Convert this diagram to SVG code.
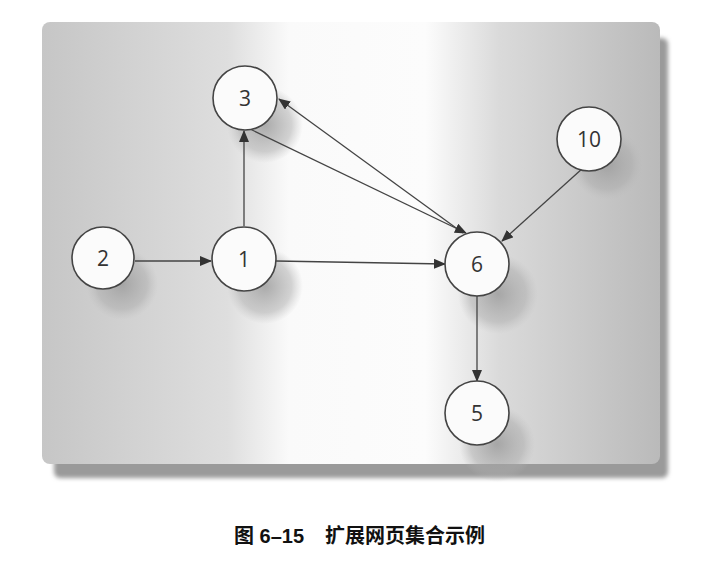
<svg xmlns="http://www.w3.org/2000/svg" width="716" height="566" viewBox="0 0 716 566">
<defs>
<linearGradient id="bg" x1="0" y1="0" x2="1" y2="0">
<stop offset="0" stop-color="#c6c6c6"/>
<stop offset="0.3" stop-color="#dedede"/>
<stop offset="0.4" stop-color="#fafafa"/>
<stop offset="0.62" stop-color="#fcfcfc"/>
<stop offset="0.74" stop-color="#dadada"/>
<stop offset="1" stop-color="#bababa"/>
</linearGradient>
<radialGradient id="sh">
<stop offset="0" stop-color="#999" stop-opacity="0.8"/>
<stop offset="0.7" stop-color="#aaa" stop-opacity="0.5"/>
<stop offset="1" stop-color="#bbb" stop-opacity="0"/>
</radialGradient>
<filter id="blur"><feGaussianBlur stdDeviation="2"/></filter>
<marker id="arr" markerWidth="12" markerHeight="10" refX="11" refY="5" orient="auto" markerUnits="userSpaceOnUse">
<path d="M0,0 L12,5 L0,10 Z" fill="#333"/>
</marker>
<style>
.node circle{fill:#fbfbfb;stroke:#444;stroke-width:1.6}
.node text{font-family:"Open Sans","DejaVu Sans",sans-serif;font-size:21px;fill:#333;text-anchor:middle;dominant-baseline:central}
.shadow{fill:url(#sh)}
#edges line{stroke:#444;stroke-width:1.3;marker-end:url(#arr)}
.cap{font-family:"Liberation Sans","Noto Sans CJK SC",sans-serif;font-size:20px;font-weight:bold;fill:#111}
</style>
</defs>
<rect width="716" height="566" fill="#fff"/>
<g id="panel">
<rect x="54" y="38" width="614" height="440" rx="6" fill="#9a9a9a" filter="url(#blur)"/>
<rect x="42" y="22" width="618" height="442" rx="8" fill="url(#bg)"/>
</g>
<g id="shadows">
<circle class="shadow" cx="265" cy="125" r="38"/>
<circle class="shadow" cx="122" cy="284" r="36"/>
<circle class="shadow" cx="265" cy="286" r="38"/>
<circle class="shadow" cx="498" cy="294" r="40"/>
<circle class="shadow" cx="607" cy="164" r="36"/>
<circle class="shadow" cx="497" cy="444" r="38"/>
</g>
<g id="edges">
<line x1="135" y1="261" x2="211" y2="261"/>
<line x1="244" y1="226" x2="244" y2="131"/>
<line x1="276" y1="261" x2="445" y2="264"/>
<line x1="463" y1="233" x2="279" y2="99"/>
<line x1="250" y1="129" x2="466" y2="233"/>
<line x1="583" y1="168" x2="502" y2="241"/>
<line x1="477" y1="295" x2="477" y2="381"/>
</g>
<g id="node3" class="node"><circle cx="245" cy="98" r="32"/><text x="245" y="98">3</text></g>
<g id="node2" class="node"><circle cx="103" cy="258" r="31"/><text x="103" y="258">2</text></g>
<g id="node1" class="node"><circle cx="244" cy="259" r="32"/><text x="244" y="259">1</text></g>
<g id="node6" class="node"><circle cx="477" cy="264" r="32"/><text x="477" y="264">6</text></g>
<g id="node10" class="node"><circle cx="589" cy="139" r="32"/><text x="589" y="139">10</text></g>
<g id="node5" class="node"><circle cx="477" cy="413" r="32"/><text x="477" y="413">5</text></g>
<text class="cap" x="234" y="543">图 6–15<tspan x="325">扩展网页集合示例</tspan></text>
</svg>
